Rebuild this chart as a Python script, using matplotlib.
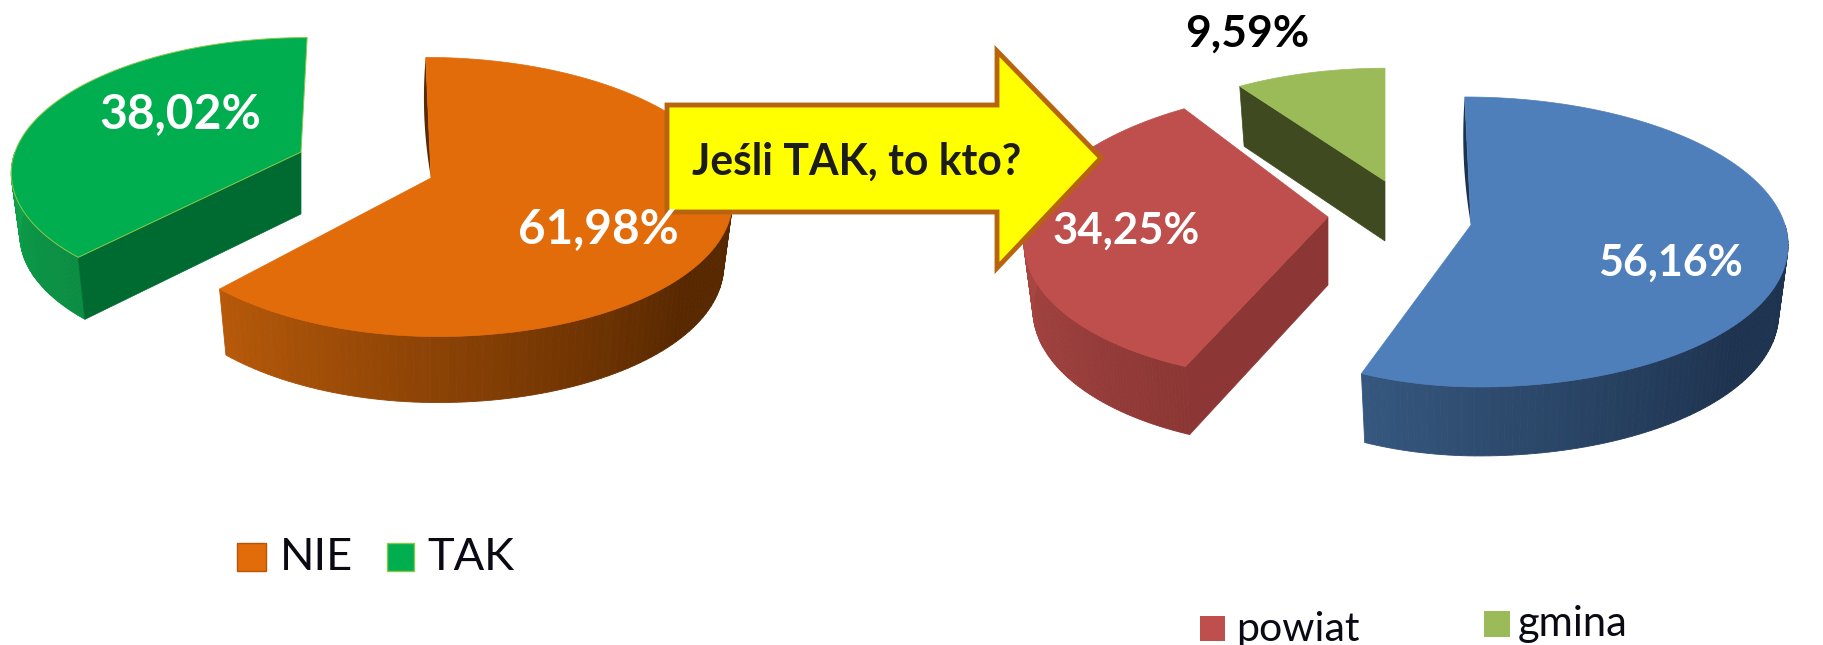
import math
import matplotlib
matplotlib.use("Agg")
import matplotlib.pyplot as plt
import matplotlib.patches as mpatches
import matplotlib.colors as mcolors
import numpy as np

plt.rcParams["font.family"] = ["Lato", "DejaVu Sans"]

# Data
left_legend = ["NIE", "TAK"]
left_values = [61.98, 38.02]
right_legend = ["powiat", "gmina"]
right_values = [56.16, 34.25, 9.59]
arrow_text = "Jeśli TAK, to kto?"

W, H = 1824, 645


def pct(v):
    return f"{v:.2f}".replace(".", ",") + "%"


def rim(theta, g):
    # Point on the perspective ellipse, theta clockwise from 12 o'clock
    s, c = math.sin(math.radians(theta)), math.cos(math.radians(theta))
    den = 1 + g["k"] * c
    a = g["al"] if s < 0 else g["ar"]
    return g["cx"] + (a * s + g["skew"] * c) / den, g["cy"] - g["b"] * c / den


def below(p, g):
    # Same point on the bottom of the slab, pulled slightly to the centre
    return g["cx"] + (p[0] - g["cx"]) * 0.97, p[1] + g["depth"]


def draw_slice(ax, start, end, g):
    # Curved outer wall, split into strips for the shading
    hi, lo = min(end, 270), max(start, 90)
    if hi > lo:
        c0 = np.array(mcolors.to_rgb(g["wall0"]))
        c1 = np.array(mcolors.to_rgb(g["wall1"]))
        angles = np.linspace(lo, hi, 90)
        for a0, a1 in zip(angles[:-1], angles[1:]):
            t = min(1, (hi - a0) / (hi - max(lo, 130)))
            p0, p1 = rim(a0, g), rim(a1, g)
            col = c0 + (c1 - c0) * t
            ax.add_patch(mpatches.Polygon([p0, p1, below(p1, g), below(p0, g)],
                                          facecolor=col, edgecolor=col, lw=0.6))
    apex = (g["cx"], g["cy"])
    # Flat cut face
    if g.get("face") is not None:
        p = rim(g["face"], g)
        ax.add_patch(mpatches.Polygon([apex, p, below(p, g), below(apex, g)],
                                      facecolor=g["dark"], edgecolor=g["dark"], lw=0.5))
    # Thin dark sliver left of the 12 o'clock edge
    if g.get("sliver"):
        p = rim(start, g)
        pts = []
        for t in np.linspace(0, 1, 20):
            pts.append((p[0] + (apex[0] - p[0]) * t - 16 * t * (1 - t),
                        p[1] + (apex[1] - p[1]) * t))
        ax.add_patch(mpatches.Polygon(pts, facecolor=g["dark"], edgecolor="none"))
    # Top surface
    top = [apex] + [rim(a, g) for a in np.linspace(start, end, 160)]
    ax.add_patch(mpatches.Polygon(top, closed=True, facecolor=g["top"],
                                  edgecolor=g.get("edge", g["top"]), lw=g.get("lw", 0.5)))


orange = dict(cx=431, cy=178, al=285, ar=298, b=137, k=0.136, skew=-6, depth=66, top="#E26B0A",
              dark="#5A2A00", wall0="#B85A0A", wall1="#582800", sliver=True)
green = dict(cx=301, cy=152, al=286, ar=286, b=130, k=0.136, skew=7, depth=62, top="#00AD4F",
             dark="#006B31", wall0="#0EA34B", wall1="#0A8C42", face=None, edge="#8CC84B", lw=0.7)
blue = dict(cx=1471, cy=225, al=276, ar=314, b=143, k=0.117, skew=-7, depth=69, top="#4F7FBB",
            dark="#1E334F", wall0="#36587F", wall1="#1E334F", sliver=True)
red = dict(cx=1328, cy=217, al=300, ar=300, b=144, k=0.117, skew=15, depth=68, top="#BE4F4C",
           dark="#8C3735", wall0="#AB4743", wall1="#8C3735")
lime = dict(cx=1385, cy=181, al=281, ar=281, b=126, k=0.117, skew=0, depth=60, top="#9BBB59",
            dark="#3F4A20", wall0="#3F4A20", wall1="#3F4A20")

fig, ax = plt.subplots(figsize=(W / 100, H / 100), dpi=100)
fig.subplots_adjust(0, 0, 1, 1)
ax.set_xlim(0, W)
ax.set_ylim(H, 0)
ax.axis("off")

# Left pie, clockwise from the top
split = left_values[0] * 3.6
green["face"] = split
draw_slice(ax, split, 360, green)
draw_slice(ax, 0, split, orange)

# Right pie
a1 = right_values[0] * 3.6
a2 = a1 + right_values[1] * 3.6
lime["face"] = a2
red["face"] = a1
draw_slice(ax, a2, 360, lime)
draw_slice(ax, a1, a2, red)
draw_slice(ax, 0, a1, blue)

# Arrow
arrow_pts = [(667, 105), (997, 105), (997, 51), (1101, 158), (997, 268), (997, 212), (667, 212)]
ax.add_patch(mpatches.Polygon(arrow_pts, closed=True, facecolor="#FFFF00", edgecolor="#B8640F",
                              lw=3.5, joinstyle="miter", zorder=5))
ax.text(857, 162, arrow_text, fontsize=30.7, fontweight="bold", color="#1c1c1c",
        ha="center", va="center", zorder=6)

# Percent labels
labels = [
    (left_values[1], 180, 114, "white", 34.5),
    (left_values[0], 598, 229, "white", 34.3),
    (right_values[1], 1126, 231, "white", 31.5),
    (right_values[0], 1670, 263, "white", 31),
    (right_values[2], 1247, 34, "black", 32),
]
for v, x, y, col, size in labels:
    ax.text(x, y, pct(v), fontsize=size, fontweight="bold", color=col,
            ha="center", va="center", zorder=7)

# Legends
ax.add_patch(mpatches.Rectangle((237, 543), 29, 28, facecolor="#E26B0A", edgecolor="#B5560A", lw=1))
ax.text(280, 557, left_legend[0], fontsize=32.5, va="center", color="#0a0a14")
ax.add_patch(mpatches.Rectangle((387, 543), 27, 28, facecolor="#00AD4F", edgecolor="#8CC84B", lw=1))
ax.text(427, 557, left_legend[1], fontsize=32.5, va="center", color="#0a0a14")
ax.add_patch(mpatches.Rectangle((1200, 616), 25, 25, facecolor="#BE4F4C", edgecolor="none"))
ax.text(1236, 629, right_legend[0], fontsize=29.5, va="center", color="#0a0a14")
ax.add_patch(mpatches.Rectangle((1484, 611), 26, 26, facecolor="#9BBB59", edgecolor="none"))
ax.text(1518, 624, right_legend[1], fontsize=30, va="center", color="#0a0a14")

fig.savefig("out.png", dpi=100, facecolor="white")
